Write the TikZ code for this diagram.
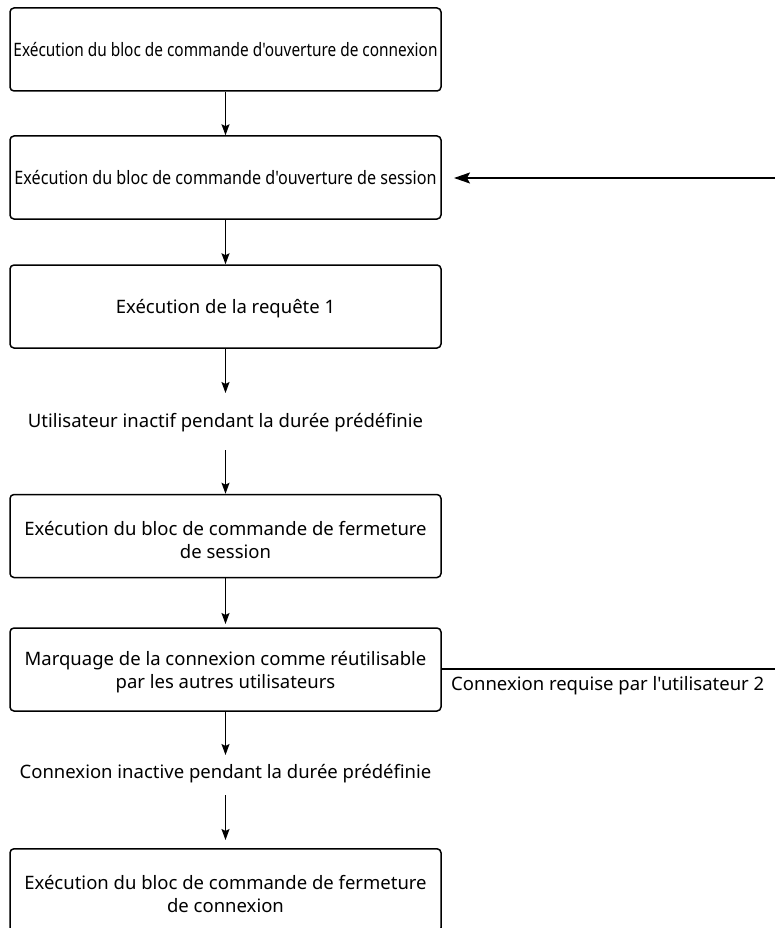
\documentclass[tikz,border=0pt]{standalone}
\usepackage{graphicx}
\usepackage{fontspec}
\setmainfont{Noto Sans}[Ligatures=TeXOff]
\usetikzlibrary{arrows.meta}
\begin{document}
\begin{tikzpicture}[x=1pt,y=-1pt,
  box/.style={draw,line width=1.5pt,rounded corners=4pt,minimum width=431pt,minimum height=83pt,inner sep=0pt},
  lbl/.style={align=center,inner sep=0pt,font=\fontsize{18.5}{23}\selectfont},
  arr/.style={line width=1.5pt,-{Stealth[length=11pt,width=8pt,inset=2pt]}}]
\useasboundingbox (0,0) rectangle (775,928);
\node[box] (b1) at (225.5,49.5) {};
\node[lbl] (l1) at (b1.center) {\resizebox{424pt}{\height}{Exécution du bloc de commande d'ouverture de connexion}};
\node[box] (b2) at (225.5,177.5) {};
\node[lbl] (l2) at (b2.center) {\resizebox{422pt}{\height}{Exécution du bloc de commande d'ouverture de session}};
\node[box] (b3) at (225.5,306.5) {};
\node[lbl] (l3) at ([yshift=-2pt]b3.center) {Exécution de la requête 1};
\node[lbl] (t1) at (225.5,422.5) {Utilisateur inactif pendant la durée prédéfinie};
\node[box] (b4) at (225.5,536) {};
\node[lbl] (l4) at ([yshift=-4pt]b4.center) {Exécution du bloc de commande de fermeture\\de session};
\node[box] (b5) at (225.5,669.5) {};
\node[lbl] (l5) at ([yshift=-3pt]b5.center) {Marquage de la connexion comme réutilisable\\par les autres utilisateurs};
\node[lbl] (t2) at (225.5,773.5) {Connexion inactive pendant la durée prédéfinie};
\node[box,anchor=north] (b6) at (225.5,848) {};
\node[lbl] (l6) at ([yshift=-4pt]b6.center) {Exécution du bloc de commande de fermeture\\de connexion};
\coordinate (r1) at (776,178);
\coordinate (r2) at (776,669);
\draw[arr] (b1.south) -- (b2.north);
\draw[arr] (b2.south) -- (b3.north);
\draw[arr] (b3.south) -- (225.5,393);
\draw[arr] (225.5,450) -- (b4.north);
\draw[arr] (b4.south) -- (225.5,624);
\draw[arr] (b5.south) -- (225.5,755);
\draw[arr] (225.5,795) -- (225.5,840);
\draw[line width=1.5pt,-{Stealth[length=16pt,width=11pt,inset=3pt]}] (r1) -- (454,178);
\draw[line width=1.5pt] (b5.east |- r2) -- (r2);
\node[lbl,anchor=west] (t3) at (451,686) {Connexion requise par l'utilisateur 2};
\end{tikzpicture}
\end{document}
